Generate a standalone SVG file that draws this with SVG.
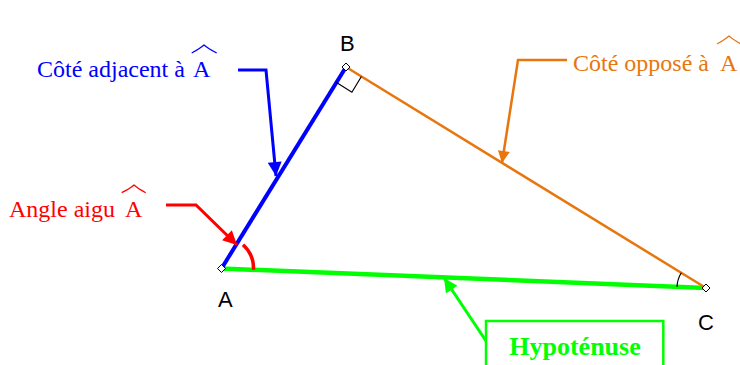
<svg xmlns="http://www.w3.org/2000/svg" width="740" height="365" viewBox="0 0 740 365">
<style>
.lbl{font-family:"Liberation Serif","Times New Roman",serif;font-size:24px}
.pt{font-family:"Liberation Sans",Arial,sans-serif;font-size:22px;fill:#000}
.hat{fill:none;stroke-width:1.3}
.blue{fill:#0000ff}.red{fill:#ff0000}.orange{fill:#e8760e}.green{fill:#00ff00}
.dia{fill:#fff;stroke:#000;stroke-width:1}
</style>
<defs>
<marker id="ab" viewBox="0 0 10 10" refX="10" refY="5" markerWidth="19" markerHeight="14" markerUnits="userSpaceOnUse" orient="auto"><path d="M0,0L10,5L0,10z" fill="#0000ff"/></marker>
<marker id="ar" viewBox="0 0 10 10" refX="10" refY="5" markerWidth="19" markerHeight="14" markerUnits="userSpaceOnUse" orient="auto"><path d="M0,0L10,5L0,10z" fill="#ff0000"/></marker>
<marker id="ao" viewBox="0 0 10 10" refX="10" refY="5" markerWidth="17" markerHeight="12" markerUnits="userSpaceOnUse" orient="auto"><path d="M0,0L10,5L0,10z" fill="#e8760e"/></marker>
<marker id="ag" viewBox="0 0 10 10" refX="10" refY="5" markerWidth="19" markerHeight="14" markerUnits="userSpaceOnUse" orient="auto"><path d="M0,0L10,5L0,10z" fill="#00ff00"/></marker>
</defs>
<g id="triangle">
<line x1="221.5" y1="268.5" x2="706" y2="288" stroke="#00ff00" stroke-width="4.5"/>
<line x1="346" y1="67" x2="706" y2="288" stroke="#e8760e" stroke-width="2.5"/>
<line x1="221.5" y1="268.5" x2="346" y2="67" stroke="#0000ff" stroke-width="4"/>
<path d="M336.5,82.4 L351.9,92.2 L361.4,76.5" fill="none" stroke="#000" stroke-width="1.2"/>
<path d="M681.3,272.8 A29,29 0 0 0 677,286.8" fill="none" stroke="#000" stroke-width="1.2"/>
<path d="M243,244.8 A32,32 0 0 1 253.5,269.8" fill="none" stroke="#ff0000" stroke-width="3.5"/>
</g>
<g id="pointA"><path class="dia" d="M221.5,264.5 L225.5,268.5 L221.5,272.5 L217.5,268.5z"/><text class="pt" x="218" y="307">A</text></g>
<g id="pointB"><path class="dia" d="M346,63 L350,67 L346,71 L342,67z"/><text class="pt" x="340" y="51">B</text></g>
<g id="pointC"><path class="dia" d="M706,284 L710,288 L706,292 L702,288z"/><text class="pt" x="698" y="330">C</text></g>
<g id="connectors" fill="none" stroke-width="3">
<polyline points="238,70 266,70 276,176" stroke="#0000ff" marker-end="url(#ab)"/>
<polyline points="166,205 196,205 237,245" stroke="#ff0000" marker-end="url(#ar)"/>
<polyline points="567,60 518,60 502,163" stroke="#e8760e" stroke-width="2.5" marker-end="url(#ao)"/>
<line x1="486" y1="341" x2="444" y2="278" stroke="#00ff00" marker-end="url(#ag)"/>
</g>
<g id="labelAdjacent">
<text class="lbl blue" x="37" y="77">Côté adjacent à</text>
<text class="lbl blue" x="193" y="77">A</text>
<path class="hat" stroke="#0000ff" d="M191.7,53 Q200,48.5 204,45 Q208,48.5 216.7,53"/>
</g>
<g id="labelOppose">
<text class="lbl orange" x="573" y="71">Côté opposé à</text>
<text class="lbl orange" x="720" y="71">A</text>
<path class="hat" stroke="#e8760e" d="M717,44 Q725,39.5 729,36 Q733,39.5 741,44"/>
</g>
<g id="labelAngle">
<text class="lbl red" x="9" y="217">Angle aigu</text>
<text class="lbl red" x="125" y="217">A</text>
<path class="hat" stroke="#ff0000" d="M121.7,192.7 Q130,188.5 134,185 Q138,188.5 145.7,192.7"/>
</g>
<g id="labelHyp">
<rect x="486" y="321" width="177.3" height="60" fill="#fff" stroke="#00ff00" stroke-width="2.5"/>
<text x="575" y="355" text-anchor="middle" font-family="'Liberation Serif','Times New Roman',serif" font-weight="bold" font-size="26px" fill="#00ff00">Hypoténuse</text>
</g>
</svg>
